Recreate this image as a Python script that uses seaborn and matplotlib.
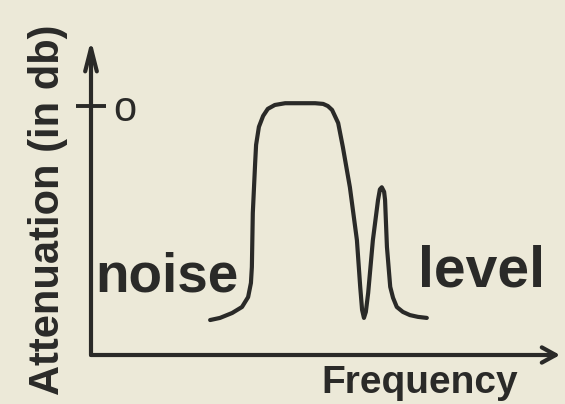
import matplotlib
matplotlib.use("Agg")
import matplotlib.pyplot as plt
import seaborn as sns
import pandas as pd

# ---- data ----
frequency = [25.4, 27.5, 30.1, 32.2, 33.5, 34.1, 34.3, 34.5, 35.0, 35.2, 35.8, 36.7,
             37.7, 39.2, 41.4, 44.6, 47.8, 49.5, 50.5, 51.4, 52.0, 52.7, 53.7, 55.2,
             56.7, 57.4, 57.8, 58.2, 58.6, 59.1, 60.1, 61.2, 61.6, 62.0, 62.5, 62.7,
             63.1, 63.8, 64.4, 65.2, 66.5, 68.0, 69.7, 71.6]
attenuation_db = [-60.6, -60.0, -58.6, -56.9, -54.1, -50.1, -45.6, -30.3, -16.1, -11.0, -5.9, -2.8,
                  -0.8, 0.3, 0.8, 0.8, 0.8, 0.6, 0.0, -1.1, -2.8, -4.8, -11.6, -23.0,
                  -38.0, -51.2, -57.7, -60.0, -58.3, -52.9, -38.0, -26.6, -23.6, -23.0, -24.3, -26.6,
                  -39.9, -51.2, -54.3, -56.9, -58.3, -59.2, -59.7, -60.0]
y_ticks = [0]
y_tick_labels = ["o"]
x_label = "Frequency"
y_label = "Attenuation (in db)"
left_note = "noise"
right_note = "level"

BG = "#ece9d8"
INK = "#2a2a28"

sns.set_theme(style="white")
plt.rcParams["font.family"] = ["Liberation Sans", "DejaVu Sans"]
plt.rcParams["text.color"] = INK

df = pd.DataFrame({"Frequency": frequency, "Attenuation": attenuation_db})

fig = plt.figure(figsize=(5.65, 4.04), dpi=100, facecolor=BG)
ax = fig.add_axes([91 / 565, 49 / 404, 469 / 565, 315 / 404])
ax.set_facecolor(BG)

sns.lineplot(data=df, x="Frequency", y="Attenuation", ax=ax, sort=False,
             estimator=None, color=INK, lw=3.0, solid_joinstyle="round",
             solid_capstyle="round")

ax.set_xlim(0, 100)
ax.set_ylim(-70.5, 18.7)

for s in ax.spines.values():
    s.set_visible(False)

# axes drawn as arrows
arrow_kw = dict(color=INK, lw=3.0, shrinkA=0, shrinkB=0, mutation_scale=10,
                capstyle="round", joinstyle="round")
ax.annotate("", xy=(1, 0), xytext=(0, 0), xycoords="axes fraction",
            arrowprops=dict(arrowstyle="->,head_length=1.0,head_width=0.55", **arrow_kw))
ax.annotate("", xy=(0, 1), xytext=(0, 0), xycoords="axes fraction",
            arrowprops=dict(arrowstyle="->,head_length=1.65,head_width=0.42", **arrow_kw))

# the single tick at 0 dB
ax.set_xticks([])
ax.set_yticks(y_ticks)
ax.set_yticklabels([])
ax.tick_params(axis="y", direction="inout", length=21, width=2.8, color=INK, left=True)
for yt, lab in zip(y_ticks, y_tick_labels):
    ax.annotate(lab, xy=(0, yt), xycoords=("axes fraction", "data"),
                xytext=(16, -3), textcoords="offset points", ha="left", va="center",
                fontsize=30, color=INK)

# axis labels
ax.set_xlabel(x_label, fontsize=28, fontweight="bold", color=INK)
ax.xaxis.label.set_va("baseline")
ax.xaxis.set_label_coords((420 - 91) / 469, (355 - 393) / 315)

ax.set_ylabel(y_label, fontsize=30, fontweight="bold", color=INK)
ax.yaxis.label.set_va("center")
ax.yaxis.label.set_ha("center")
ax.yaxis.set_label_coords((48 - 91) / 469, (355 - 210) / 315)

# in-plot notes
ax.text(0.8, -52.4, left_note, fontsize=39.5, fontweight="bold", color=INK,
        ha="left", va="baseline")
ax.text(69.8, -51.0, right_note, fontsize=41, fontweight="bold", color=INK,
        ha="left", va="baseline")

fig.savefig("out.png", dpi=100, facecolor=BG)
